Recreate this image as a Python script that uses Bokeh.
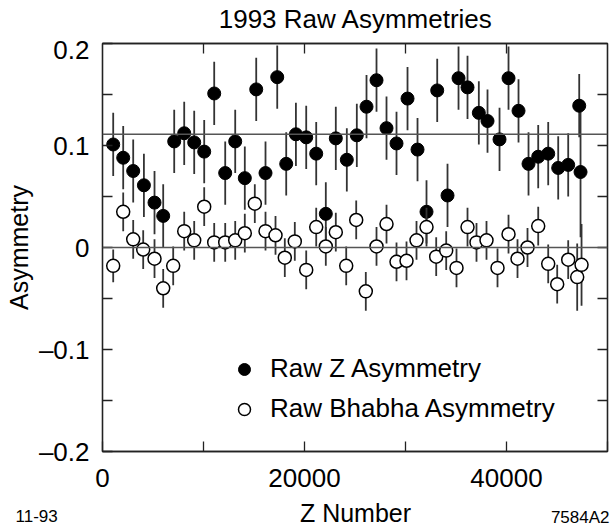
from bokeh.plotting import figure
from bokeh.layouts import column
from bokeh.models import (ColumnDataSource, FixedTicker, LinearAxis, Span,
                          Legend, LegendItem, Range1d)
from bokeh.core.properties import value
from bokeh.embed import file_html
from bokeh.resources import INLINE

# ---------------- data ----------------
title_text = "1993 Raw Asymmetries"
x_label = "Z Number"
y_label = "Asymmetry"
note_left = "11-93"
note_right = "7584A2"

z_x = [1060, 2050, 3040, 4100, 5150, 6010, 7100, 8090, 9080, 10070,
       11060, 12150, 13140, 14090, 15220, 16140, 17300, 18190, 19150, 20170,
       21160, 22110, 23100, 24190, 25180, 26140, 27130, 28120, 29110, 30200,
       31190, 32080, 33140, 34160, 35250, 36140, 37260, 38120, 39310, 40200,
       41190, 42180, 43140, 44130, 45120, 46110, 47200, 47330]
z_y = [0.101, 0.088, 0.075, 0.061, 0.044, 0.031, 0.104, 0.112, 0.103, 0.094,
       0.151, 0.073, 0.104, 0.068, 0.155, 0.073, 0.167, 0.082, 0.111, 0.108,
       0.092, 0.033, 0.107, 0.086, 0.110, 0.138, 0.164, 0.117, 0.102, 0.146,
       0.096, 0.035, 0.154, 0.051, 0.166, 0.157, 0.132, 0.124, 0.106, 0.166,
       0.134, 0.082, 0.089, 0.092, 0.078, 0.081, 0.139, 0.074]
z_err = [0.031, 0.031, 0.031, 0.031, 0.031, 0.031, 0.031, 0.031, 0.031, 0.031,
         0.031, 0.031, 0.031, 0.031, 0.031, 0.031, 0.031, 0.031, 0.031, 0.031,
         0.031, 0.031, 0.031, 0.031, 0.031, 0.031, 0.031, 0.031, 0.031, 0.031,
         0.031, 0.031, 0.031, 0.031, 0.031, 0.031, 0.031, 0.031, 0.031, 0.031,
         0.031, 0.031, 0.031, 0.031, 0.031, 0.031, 0.031, 0.064]

b_x = [1060, 2050, 3040, 4030, 5150, 6010, 7000, 8090, 9080, 10070,
       11060, 12150, 13140, 14090, 15080, 16140, 17130, 18050, 19040, 20170,
       21160, 22110, 23100, 24130, 25120, 26070, 27130, 28120, 29110, 30100,
       31090, 32080, 33040, 34030, 35050, 36140, 37030, 38020, 39110, 40200,
       41090, 42080, 43140, 44130, 45020, 46110, 47000, 47430]
b_y = [-0.018, 0.035, 0.008, -0.002, -0.011, -0.040, -0.018, 0.016, 0.007, 0.040,
       0.005, 0.005, 0.007, 0.014, 0.043, 0.016, 0.012, -0.010, 0.006, -0.022,
       0.020, 0.001, 0.015, -0.018, 0.027, -0.043, 0.001, 0.023, -0.014, -0.013,
       0.007, 0.020, -0.009, -0.003, -0.020, 0.020, 0.005, 0.007, -0.020, 0.013,
       -0.011, 0.000, 0.021, -0.016, -0.036, -0.012, -0.029, -0.017]
b_err = [0.016, 0.019, 0.019, 0.019, 0.019, 0.019, 0.019, 0.019, 0.019, 0.019,
         0.019, 0.019, 0.019, 0.019, 0.019, 0.019, 0.019, 0.019, 0.019, 0.019,
         0.019, 0.019, 0.019, 0.019, 0.019, 0.019, 0.019, 0.019, 0.019, 0.019,
         0.019, 0.019, 0.019, 0.019, 0.019, 0.019, 0.019, 0.019, 0.019, 0.019,
         0.019, 0.019, 0.019, 0.019, 0.019, 0.019, 0.033, 0.040]

ref_lines = [0.0, 0.111]          # horizontal reference lines
x_major = [0, 20000, 40000]
x_minor = [10000, 30000, 50000]
x_all = [10000, 20000, 30000, 40000]
y_major = [-0.2, -0.1, 0.0, 0.1, 0.2]
y_minor = [-0.15, -0.05, 0.05, 0.15]
y_all = [-0.15, -0.1, -0.05, 0.0, 0.05, 0.1, 0.15]
y_tick_text = {-0.2: "\u20130.2", -0.1: "\u20130.1", 0.0: "0", 0.1: "0.1", 0.2: "0.2"}
x_tick_text = {0: "0", 20000: "20000", 40000: "40000"}
legend_labels = ["Raw Z Asymmetry", "Raw Bhabha Asymmetry"]

FONT = "Liberation Sans"
W = 611
HT, HP, HB = 34, 464, 29   # heights: title strip, plot, bottom strip


def strip(height):
    s = figure(width=W, height=height, output_backend="svg", toolbar_location=None,
               x_range=Range1d(0, W), y_range=Range1d(height, 0),
               min_border=0, x_axis_location=None, y_axis_location=None)
    s.frame_align = False
    s.grid.visible = False
    s.outline_line_color = None
    s.background_fill_color = "white"
    s.border_fill_color = "white"
    return s


# ---------------- title strip ----------------
pt = strip(HT)
pt.text(x=[355.5], y=[18.5], text=[title_text], text_font=value(FONT),
        text_font_size="26px", text_align="center", text_baseline="middle",
        text_color="black")

# ---------------- main figure ----------------
p = figure(width=W, height=HP, output_backend="svg", toolbar_location=None,
           x_range=Range1d(0, 50000), y_range=Range1d(-0.2, 0.2),
           min_border_left=102, min_border_right=4, min_border_top=9,
           min_border_bottom=47, x_axis_location=None, y_axis_location=None)
p.frame_align = False
p.grid.visible = False
p.outline_line_color = "#111111"
p.outline_line_width = 1.3
p.background_fill_color = "white"
p.border_fill_color = "white"


def style_axis(ax):
    ax.axis_line_color = "#222222"
    ax.axis_line_width = 1.3
    ax.major_tick_in = 10
    ax.major_tick_out = 0
    ax.minor_tick_in = 10
    ax.minor_tick_out = 0
    ax.major_tick_line_color = "#222222"
    ax.minor_tick_line_color = "#222222"
    ax.major_tick_line_width = 1.3
    ax.minor_tick_line_width = 1.3
    ax.major_label_text_font = FONT
    ax.major_label_text_font_size = "26px"
    ax.major_label_text_color = "black"
    ax.axis_label_text_font = FONT
    ax.axis_label_text_font_style = "normal"
    ax.axis_label_text_color = "black"


left = LinearAxis(ticker=FixedTicker(ticks=y_major, minor_ticks=y_minor),
                  major_label_overrides=y_tick_text)
style_axis(left)
left.major_label_standoff = 13
left.axis_label = y_label
left.axis_label_text_font_size = "25px"
left.axis_label_standoff = 3

right = LinearAxis(ticker=FixedTicker(ticks=[], minor_ticks=y_all))
style_axis(right)

bottom = LinearAxis(ticker=FixedTicker(ticks=x_major, minor_ticks=x_minor),
                    major_label_overrides=x_tick_text)
style_axis(bottom)
bottom.major_label_standoff = 17

top = LinearAxis(ticker=FixedTicker(ticks=[], minor_ticks=x_all))
style_axis(top)

p.add_layout(left, "left")
p.add_layout(right, "right")
p.add_layout(bottom, "below")
p.add_layout(top, "above")

for v in ref_lines:
    p.add_layout(Span(location=v, dimension="width", line_color="#555555",
                      line_width=1.5))

# ---------------- data glyphs ----------------
zsrc = ColumnDataSource(dict(x=z_x, y=z_y,
                             lo=[a - e for a, e in zip(z_y, z_err)],
                             hi=[a + e for a, e in zip(z_y, z_err)]))
bsrc = ColumnDataSource(dict(x=b_x, y=b_y,
                             lo=[a - e for a, e in zip(b_y, b_err)],
                             hi=[a + e for a, e in zip(b_y, b_err)]))

p.segment(x0="x", y0="lo", x1="x", y1="hi", source=zsrc,
          line_color="#333333", line_width=1.8)
rz = p.scatter(x="x", y="y", source=zsrc, marker="circle", size=13,
               fill_color="black", line_color="black")
p.segment(x0="x", y0="lo", x1="x", y1="hi", source=bsrc,
          line_color="#333333", line_width=1.8)
rb = p.scatter(x="x", y="y", source=bsrc, marker="circle", size=13,
               fill_color="white", line_color="black", line_width=1.5)

legend = Legend(items=[LegendItem(label=legend_labels[0], renderers=[rz]),
                       LegendItem(label=legend_labels[1], renderers=[rb])],
                location=(127, 27), orientation="vertical",
                border_line_color=None, background_fill_alpha=0,
                padding=0, margin=0, spacing=9,
                glyph_width=30, glyph_height=30, label_height=30,
                label_standoff=11, label_text_font=FONT,
                label_text_font_size="26px", label_text_color="black")
p.add_layout(legend)

# ---------------- bottom strip: x label and figure notes ----------------
pb = strip(HB)
pb.text(x=[355], y=[14.5], text=[x_label], text_font=value(FONT),
        text_font_size="25px", text_align="center", text_baseline="middle",
        text_color="black")
pb.text(x=[15], y=[17], text=[note_left], text_font=value(FONT),
        text_font_size="17px", text_align="left", text_baseline="middle",
        text_color="black")
pb.text(x=[609], y=[18.5], text=[note_right], text_font=value(FONT),
        text_font_size="17px", text_align="right", text_baseline="middle",
        text_color="black")

layout = column(pt, p, pb, spacing=0)
open("out.html", "w").write(file_html(layout, INLINE))
